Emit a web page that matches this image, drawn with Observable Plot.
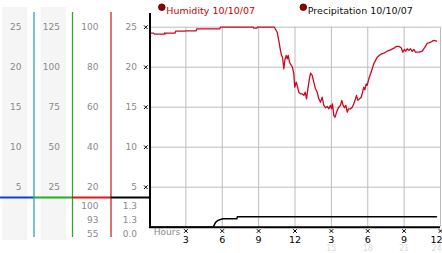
<!DOCTYPE html>
<html><head><meta charset="utf-8">
<script src="https://cdn.jsdelivr.net/npm/d3@7"></script>
<script src="https://cdn.jsdelivr.net/npm/@observablehq/plot@0.6"></script>
<style>
html,body{margin:0;padding:0;background:#fff;}
#chart{display:flex;width:442px;height:253px;position:relative;}
#chart > svg{flex:none;overflow:visible;}
</style></head><body><div id="chart"></div>
<script>
// ---- data ----
const humHours = [0,0.33,0.4,1.2,1.27,1.33,1.4,2.1,2.15,2.95,3.0,3.85,3.9,5.8,5.85,8.55,8.6,8.85,8.9,10.3,
  10.53,10.66,10.80,10.89,10.97,11.08,11.16,11.27,11.36,11.44,11.55,11.69,11.79,11.90,11.98,12.10,12.18,12.31,12.45,12.59,
  12.73,12.84,12.95,13.06,13.17,13.28,13.42,13.55,13.69,13.83,13.96,14.10,14.24,14.38,14.52,14.66,14.79,14.93,15.01,15.09,
  15.20,15.30,15.48,15.61,15.75,15.86,15.97,16.08,16.19,16.31,16.41,16.58,16.72,16.85,16.99,17.07,17.18,17.32,17.46,
  17.54,17.67,17.76,17.87,17.95,18.09,18.23,18.37,18.50,18.64,18.78,19.05,19.32,19.60,19.88,20.15,20.37,20.56,20.76,20.89,
  21.03,21.14,21.25,21.39,21.53,21.67,21.80,21.94,22.21,22.49,22.62,22.76,22.90,23.04,23.18,23.32,23.45,23.67];
const humValues = [97.0,97.0,96.5,96.5,97.2,96.7,97.0,97.0,98.0,98.0,98.2,98.2,99.2,99.2,100,100,99.5,99.5,100,100,
  97.5,93.4,88.4,85.9,85.0,79.2,83.4,85.9,84.2,85.9,82.5,80.9,80.0,76.7,70.0,72.5,70.9,67.5,66.7,66.7,
  65.9,67.5,64.2,69.2,73.4,77.0,75.9,72.5,69.2,67.5,64.2,62.5,65.0,60.9,59.7,60.4,59.2,60.9,59.2,61.7,
  55.9,55.0,58.4,60.0,60.9,63.4,60.9,59.7,60.9,57.5,59.2,59.2,60.0,61.7,64.2,65.9,63.4,64.2,65.0,
  66.7,70.0,68.7,71.7,70.9,74.2,76.7,79.2,81.7,83.4,85.0,86.4,87.0,88.0,88.7,89.5,90.4,90.4,89.7,87.5,
  88.9,88.0,89.2,88.4,89.2,87.9,88.9,87.5,87.5,88.0,89.2,90.4,92.0,92.2,92.5,93.0,93.4,93.0];
const precHours = [0,5.25,5.45,5.65,6.05,7.2,7.25,23.67];
const precValues = [0,0,0.6,0.85,1.05,1.05,1.3,1.3];

// tick values (humidity %) and the labels of the four left-hand scales
const humTicks = [100,80,60,40,20];
const scale1Labels = ["25","20","15","10","5"];
const scale2Labels = ["125","100","75","50","25"];
const humLabels = ["100","80","60","40","20"];
const precLabels = ["25","20","15","10","5"];
const humTable = ["100","93","55"];     // max, current, min
const precTable = ["1.3","1.3","0.0"];
const hourTicks = [3,6,9,12,15,18,21,24];
const hourLabels = ["3","6","9","12","3","6","9","12"];
const hour24Labels = ["","","","","15","18","21","24"];
const legendNames = ["Humidity 10/10/07","Precipitation 10/10/07"];

// ---- layout / style ----
const FONT = "DejaVu Sans";
const Y_RANGE = [226.7, 26.7];
const PREC_TO_HUM = 4;           // precipitation scale 0-25 shares pixels with humidity 0-100
const SEP_LEVEL = 14.85;         // separator between scale labels and the max/current/min table
const dividerColors = ["#29a3c6","#2fa52f","#c62828"];
const sepColors = ["#1040d0","#20b020","#e01818","#000"];
const GRID = "#bdbdbd", LABEL = "#8a8a8a";

const hum = humHours.map((h,i) => ({h, v: humValues[i]}));
const prec = precHours.map((h,i) => ({h, p: precValues[i]}));
const scaleCols = [scale1Labels, scale2Labels, humLabels, precLabels];
const labelData = scaleCols.flatMap((labels,c) => labels.map((t,i) => ({col:c, tick: humTicks[i], text:t})));
const tableData = [{col:2, values: humTable}, {col:3, values: precTable}];
const hourData = hourTicks.map((h,i) => ({h, label: hourLabels[i], label24: hour24Labels[i]}));
const faintData = hourData.filter(d => d.label24);

const left = Plot.plot({
  width: 149, height: 253, marginTop: 7, marginBottom: 13, marginLeft: 0, marginRight: 0,
  style: {fontFamily: FONT, fontSize: "9px", overflow: "visible", background: "transparent"},
  x: {domain: [0,4], range: [-5,149], axis: null},
  y: {domain: [0,100], range: Y_RANGE, axis: null},
  color: {type: "identity"},
  marks: [
    Plot.rect([0,1], {x1: d => d, x2: d => d + 1, fill: "#f5f5f5", insetLeft: 7, insetRight: 6}),
    Plot.ruleX([1,2,3], {x: d => d, stroke: d => dividerColors[d-1], strokeWidth: 1.3, insetTop: 5, insetBottom: 3}),
    Plot.ruleY([0,1,2,3], {y: () => SEP_LEVEL, x1: d => d, x2: d => d + 1, stroke: d => sepColors[d], strokeWidth: 2.2}),
    Plot.text(labelData, {x: d => d.col + 1, y: "tick", text: "text", dx: -12.5, textAnchor: "end", fill: LABEL, fontSize: 9}),
    Plot.text(tableData, {x: d => d.col + 1, text: d => d.values.join("\n"), frameAnchor: "bottom", lineAnchor: "bottom",
      lineHeight: 14/9, dx: -12.5, dy: -4, textAnchor: "end", fill: LABEL, fontSize: 9})
  ]
});

const legendOffsets = [12.3, 153.8];
const legendText = ["#cc0000", "#111"];
const right = Plot.plot({
  width: 293, height: 253, marginTop: 13, marginBottom: 26.3, marginLeft: 0, marginRight: 2,
  style: {fontFamily: FONT, fontSize: "9px", overflow: "visible", background: "transparent"},
  x: {domain: [0,24], range: [0,291], axis: null},
  y: {domain: [0,100], range: Y_RANGE, axis: null},
  marks: [
    Plot.ruleY(humTicks, {y: d => d, x1: 0, x2: 24, stroke: GRID}),
    Plot.ruleX(hourTicks, {x: d => d, y1: 0, y2: 100, stroke: GRID}),
    Plot.line(prec, {x: "h", y: d => d.p * PREC_TO_HUM, stroke: "#000", strokeWidth: 1.5}),
    Plot.line(hum, {x: "h", y: "v", stroke: "#d0061e", strokeWidth: 1.3}),
    Plot.ruleY([0], {x1: 0, x2: 24, stroke: "#000", strokeWidth: 2}),
    Plot.ruleX([0], {x: d => d, stroke: "#000", strokeWidth: 2, dx: 0.5}),
    Plot.dot(humTicks, {x: 0, y: d => d, symbol: "times", r: 1.8, dx: -3.7, stroke: "#000", strokeWidth: 1}),
    Plot.dot(hourTicks, {x: d => d, y: 0, symbol: "times", r: 1.8, dy: 3.8, stroke: "#000", strokeWidth: 1}),
    Plot.text(hourData.slice(0,-1), {x: "h", y: 0, text: "label", dy: 12.6, fill: "#000", fontSize: 9.5}),
    Plot.text(hourData.slice(-1), {x: "h", y: 0, text: "label", dy: 12.6, dx: -4, fill: "#000", fontSize: 9.5}),
    Plot.text(faintData.slice(0,-1), {x: "h", y: 0, text: "label24", dy: 21.3, fill: "#dcdcdc", fontSize: 8}),
    Plot.text(faintData.slice(-1), {x: "h", y: 0, text: "label24", dy: 21.3, dx: -4, fill: "#dcdcdc", fontSize: 8}),
    Plot.text(["Hours"], {x: 0, y: 0, text: d => d, dx: 4.3, dy: 5, textAnchor: "start", fill: LABEL, fontSize: 9}),
    ...legendNames.flatMap((name,i) => [
      Plot.dot([name], {frameAnchor: "top-left", dx: legendOffsets[i], dy: -6.3, r: 3.3, fill: "#990000", stroke: "#3a0000", strokeWidth: 0.8}),
      Plot.text([name], {frameAnchor: "top-left", text: d => d, dx: legendOffsets[i] + 4.5, dy: -6.6, textAnchor: "start", fill: legendText[i], fontSize: 9.5})
    ])
  ]
});

document.getElementById("chart").append(left, right);
</script></body></html>
